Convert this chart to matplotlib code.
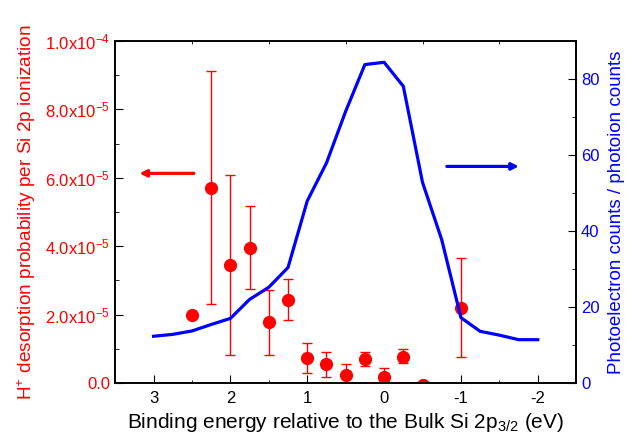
import numpy as np
import matplotlib
matplotlib.use('Agg')
from matplotlib import pyplot as plt
from matplotlib.ticker import MultipleLocator, FuncFormatter

plt.rcParams['font.family'] = ['Liberation Sans', 'DejaVu Sans']
plt.rcParams['mathtext.default'] = 'regular'

# H+ desorption probability (left axis)
ion_x = [2.5, 2.25, 2.0, 1.75, 1.5, 1.25, 1.0, 0.75, 0.5, 0.25, 0.0, -0.25, -0.5, -1.0]
ion_y = [1.98e-5, 5.71e-5, 3.44e-5, 3.96e-5, 1.78e-5, 2.44e-5, 0.73e-5, 0.56e-5,
         0.23e-5, 0.71e-5, 0.17e-5, 0.77e-5, -0.05e-5, 2.20e-5]
ion_hi = [1.98e-5, 9.11e-5, 6.09e-5, 5.18e-5, 2.73e-5, 3.04e-5, 1.18e-5, 0.92e-5,
          0.57e-5, 0.92e-5, 0.45e-5, 0.99e-5, -0.05e-5, 3.65e-5]
ion_lo = [1.98e-5, 2.30e-5, 0.81e-5, 2.76e-5, 0.83e-5, 1.83e-5, 0.29e-5, 0.19e-5,
          0.0, 0.51e-5, 0.0, 0.58e-5, -0.05e-5, 0.75e-5]

# photoelectron / photoion counts (right axis)
pes_x = [3.0, 2.75, 2.5, 2.25, 2.0, 1.75, 1.5, 1.25, 1.0, 0.75, 0.5, 0.25, 0.0,
         -0.25, -0.5, -0.75, -1.0, -1.25, -1.5, -1.75, -2.0]
pes_y = [12.3, 12.8, 13.7, 15.4, 17.0, 22.0, 25.2, 30.4, 47.9, 57.9, 71.5, 83.8, 84.4,
         78.1, 52.8, 37.7, 17.2, 13.6, 12.6, 11.4, 11.4]

red = '#ff0000'
blue = '#0000ff'

fig = plt.figure(figsize=(6.36, 4.41), dpi=100)
ax = fig.add_axes([0.181, 0.1315, 0.725, 0.7755])
ax2 = ax.twinx()

err = [np.array(ion_y) - np.array(ion_lo), np.array(ion_hi) - np.array(ion_y)]
ax.errorbar(ion_x, ion_y, yerr=err, fmt='o', color=red, ms=8.5, elinewidth=1,
            capsize=3.5, capthick=1, zorder=3)
ax2.plot(pes_x, pes_y, color=blue, lw=2.3)

ax.set_xlim(3.5, -2.5)
ax.set_ylim(0, 1e-4)
ax2.set_ylim(0, 90)

ax.xaxis.set_major_locator(MultipleLocator(1))
ax.xaxis.set_minor_locator(MultipleLocator(0.5))
ax.yaxis.set_major_locator(MultipleLocator(2e-5))
ax.yaxis.set_minor_locator(MultipleLocator(1e-5))
ax2.yaxis.set_major_locator(MultipleLocator(20))
ax2.yaxis.set_minor_locator(MultipleLocator(10))


def sci(v, pos):
    if v == 0:
        return '0.0'
    e = int(np.floor(np.log10(abs(v)) + 1e-9))
    m = v / 10 ** e
    return '%.1fx10$^{%d}$' % (m, e)


ax.yaxis.set_major_formatter(FuncFormatter(sci))
ax.xaxis.set_major_formatter(FuncFormatter(lambda v, p: '%d' % round(v)))

ax.tick_params(axis='x', which='major', direction='in', length=6, labelsize=12, top=False, pad=6)
ax.tick_params(axis='x', which='minor', direction='in', length=2, top=True)
ax.tick_params(axis='y', which='major', direction='in', length=6, labelsize=12, colors=red)
ax.tick_params(axis='y', which='minor', direction='in', length=3, colors=red)
ax.tick_params(axis='y', which='both', color='black')
ax2.tick_params(axis='y', which='major', direction='in', length=6, labelsize=12, labelcolor=blue)
ax2.tick_params(axis='y', which='minor', direction='in', length=3)

for a in (ax, ax2):
    for s in a.spines.values():
        s.set_linewidth(1.2)

ax.set_xlabel('Binding energy relative to the Bulk Si 2p$_{3/2}$ (eV)', fontsize=15, labelpad=3)
ax.set_ylabel('H$^{+}$ desorption probability per Si 2p ionization', fontsize=13.7, color=red, labelpad=5)
ax2.set_ylabel('Photoelectron counts / photoion counts', fontsize=13.5, color=blue, labelpad=6)

ax.annotate('', xy=(3.22, 6.13e-5), xytext=(2.44, 6.13e-5),
            arrowprops=dict(arrowstyle='-|>', color=red, lw=2.3, mutation_scale=10))
ax2.annotate('', xy=(-1.79, 57), xytext=(-0.78, 57),
             arrowprops=dict(arrowstyle='-|>', color=blue, lw=2.3, mutation_scale=10))

fig.savefig('out.png', dpi=100)
